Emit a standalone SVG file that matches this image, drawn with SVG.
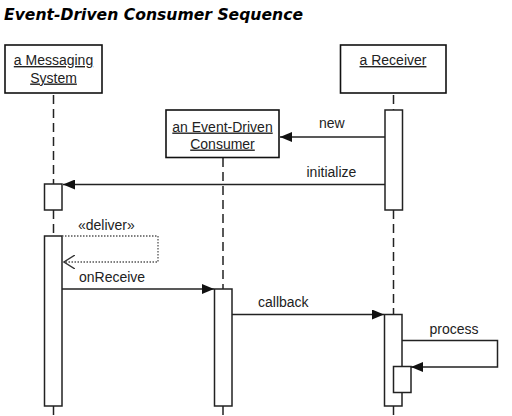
<svg xmlns="http://www.w3.org/2000/svg" width="512" height="416" viewBox="0 0 512 416">
<style>
.title{font-family:"DejaVu Sans",Verdana,sans-serif;font-weight:bold;font-style:italic;font-size:15.5px;fill:#000}
.obj{fill:#fff;stroke:#111;stroke-width:1.6}
.name{font-family:"Liberation Sans",Arial,sans-serif;font-size:14px;fill:#222;text-anchor:middle;text-decoration:underline}
.lbl{font-family:"Liberation Sans",Arial,sans-serif;font-size:14px;fill:#222}
.life{stroke:#222;stroke-width:1.5;stroke-dasharray:9,5;fill:none}
.act{fill:#fff;stroke:#222;stroke-width:1.5}
.msg{stroke:#222;stroke-width:1.5;fill:none}
.dot{stroke:#555;stroke-width:1.3;stroke-dasharray:1.5,1.5;fill:none}
</style>
<defs>
<marker id="fill" markerWidth="12" markerHeight="10" refX="12" refY="5" orient="auto" markerUnits="userSpaceOnUse">
<path d="M0,0 L12,5 L0,10 Z" fill="#111"/>
</marker>
<marker id="open" markerWidth="12" markerHeight="14" refX="11" refY="7" orient="auto" markerUnits="userSpaceOnUse">
<path d="M0,0 L11,7 L0,14" fill="none" stroke="#333" stroke-width="1.4"/>
</marker>
</defs>
<rect width="512" height="416" fill="#fff"/>
<text class="title" x="4" y="19.5" textLength="299" lengthAdjust="spacingAndGlyphs">Event-Driven Consumer Sequence</text>

<g id="lifelines">
<line class="life" x1="53.5" y1="95" x2="53.5" y2="184"/>
<line class="life" x1="53.5" y1="210" x2="53.5" y2="236"/>
<line class="life" x1="53.5" y1="406" x2="53.5" y2="416"/>
<line class="life" x1="223" y1="158" x2="223" y2="289"/>
<line class="life" x1="223" y1="406" x2="223" y2="416"/>
<line class="life" x1="393.5" y1="95" x2="393.5" y2="110"/>
<line class="life" x1="393.5" y1="210" x2="393.5" y2="314"/>
<line class="life" x1="393.5" y1="406" x2="393.5" y2="416"/>
</g>

<g id="messaging-system">
<rect class="obj" x="5" y="45" width="97" height="48"/>
<text class="name" x="53.5" y="65">a Messaging</text>
<text class="name" x="53.5" y="82.5">System</text>
<rect class="act" x="44.5" y="184" width="17.5" height="26"/>
<rect class="act" x="44.5" y="236" width="17.5" height="170"/>
</g>

<g id="event-driven-consumer">
<rect class="obj" x="166" y="110" width="113" height="47.5"/>
<text class="name" x="222.5" y="131.5">an Event-Driven</text>
<text class="name" x="222.5" y="148.5">Consumer</text>
<rect class="act" x="214.5" y="289" width="17.5" height="117"/>
</g>

<g id="receiver">
<rect class="obj" x="340.5" y="45" width="105.5" height="48"/>
<text class="name" x="393" y="65">a Receiver</text>
<rect class="act" x="385" y="110" width="17.5" height="100"/>
<rect class="act" x="384.5" y="314.5" width="17.5" height="91.5"/>
<rect class="act" x="393.5" y="366.5" width="17.5" height="26"/>
</g>

<g id="connectors">
<line class="msg" x1="385" y1="137" x2="280" y2="137" marker-end="url(#fill)"/>
<text class="lbl" x="319" y="128">new</text>
<line class="msg" x1="385" y1="184.5" x2="63" y2="184.5" marker-end="url(#fill)"/>
<text class="lbl" x="306.5" y="177">initialize</text>
<path class="dot" d="M62,236 H158 V262 H64" marker-end="url(#open)"/>
<text class="lbl" x="78" y="229.5">«deliver»</text>
<line class="msg" x1="62" y1="289" x2="214" y2="289" marker-end="url(#fill)"/>
<text class="lbl" x="79" y="281.5">onReceive</text>
<line class="msg" x1="232" y1="314.5" x2="384" y2="314.5" marker-end="url(#fill)"/>
<text class="lbl" x="258" y="307">callback</text>
<path class="msg" d="M402,340.5 H497.5 V367 H411" marker-end="url(#fill)"/>
<text class="lbl" x="429.5" y="333.5">process</text>
</g>
</svg>
